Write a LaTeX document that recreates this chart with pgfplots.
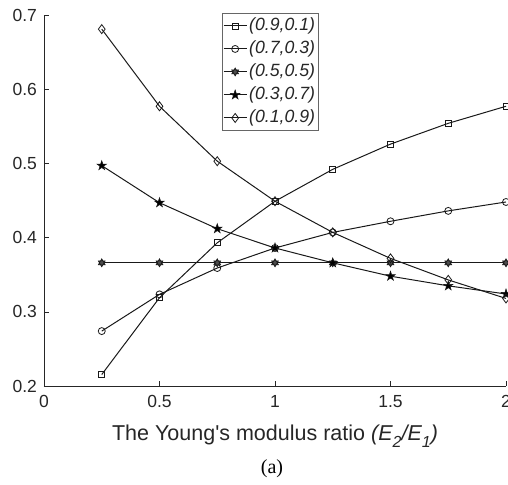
\documentclass[border=0pt]{standalone}
\usepackage{fontspec}
\usepackage{pgfplots}
\pgfplotsset{compat=1.18}
\newfontfamily\arial{Liberation Sans}
\newfontfamily\timesf{Liberation Serif}
\newcommand{\sub}[1]{\raisebox{-0.32em}{\fontsize{16}{18}\selectfont #1}}

\pgfdeclareplotmark{hexagram}{%
 \pgfpathmoveto{\pgfpointpolar{90}{\pgfplotmarksize}}%
 \pgfpathlineto{\pgfpointpolar{210}{\pgfplotmarksize}}%
 \pgfpathlineto{\pgfpointpolar{330}{\pgfplotmarksize}}%
 \pgfpathclose
 \pgfpathmoveto{\pgfpointpolar{270}{\pgfplotmarksize}}%
 \pgfpathlineto{\pgfpointpolar{30}{\pgfplotmarksize}}%
 \pgfpathlineto{\pgfpointpolar{150}{\pgfplotmarksize}}%
 \pgfpathclose
 \pgfusepathqfillstroke}
\pgfdeclareplotmark{pentagram}{%
 \pgfpathmoveto{\pgfpointpolar{90}{\pgfplotmarksize}}%
 \pgfpathlineto{\pgfpointpolar{126}{0.382\pgfplotmarksize}}%
 \pgfpathlineto{\pgfpointpolar{162}{\pgfplotmarksize}}%
 \pgfpathlineto{\pgfpointpolar{198}{0.382\pgfplotmarksize}}%
 \pgfpathlineto{\pgfpointpolar{234}{\pgfplotmarksize}}%
 \pgfpathlineto{\pgfpointpolar{270}{0.382\pgfplotmarksize}}%
 \pgfpathlineto{\pgfpointpolar{306}{\pgfplotmarksize}}%
 \pgfpathlineto{\pgfpointpolar{342}{0.382\pgfplotmarksize}}%
 \pgfpathlineto{\pgfpointpolar{18}{\pgfplotmarksize}}%
 \pgfpathlineto{\pgfpointpolar{54}{0.382\pgfplotmarksize}}%
 \pgfpathclose
 \pgfusepathqfillstroke}

\begin{document}
\arial\fontsize{17.5}{20}\selectfont
\begin{tikzpicture}
\begin{axis}[
 name=ax,
 scale only axis, width=462pt, height=371pt,
 xmin=0, xmax=2, ymin=0.2, ymax=0.7,
 axis lines*=left, tick align=inside, major tick length=5pt,
 axis line style={black!85, line width=0.6pt},
 every tick/.style={black!85, line width=0.6pt},
 xtick={0,0.5,1,1.5,2}, xticklabels={0,0.5,1,1.5,2},
 ytick={0.2,0.3,0.4,0.5,0.6,0.7}, yticklabels={0.2,0.3,0.4,0.5,0.6,0.7},
 ticklabel style={font=\arial\fontsize{17.5}{20}\selectfont, text=black!85},
 xticklabel style={yshift=-3pt},
 yticklabel style={xshift=-1pt},
 xlabel={The Young's modulus ratio \textit{(E\sub{2}/E\sub{1})}},
 xlabel style={font=\arial\fontsize{21.5}{24}\selectfont, text=black!85, at={(axis description cs:0.5,-0.147)}, anchor=base},
 legend style={at={(0.385,1.005)}, anchor=north west, draw=black!60, line width=0.6pt, fill=white,
   font=\arial\fontsize{17.7}{20}\selectfont, text=black!85, inner sep=1pt, row sep=0pt,
   nodes={inner sep=2pt, text height=14.5pt, text depth=4.5pt}},
 legend cell align=left,
 legend image code/.code={\draw[mark repeat=2,mark phase=2,#1] plot coordinates {(0pt,0pt) (11.5pt,0pt) (23pt,0pt)};},
 every axis plot/.append style={black!90, line width=1pt},
 clip=false,
]
\addplot[mark=square, mark size=3pt, mark options={fill=white, line width=0.8pt}] coordinates {
 (0.25,0.2155) (0.5,0.319) (0.75,0.393) (1.0,0.449) (1.25,0.492) (1.5,0.526) (1.75,0.554) (2.0,0.577)};
\addlegendentry{\textit{(0.9,0.1)}}
\addplot[mark=o, mark size=3.5pt, mark options={fill=white, line width=0.8pt}] coordinates {
 (0.25,0.274) (0.5,0.3235) (0.75,0.359) (1.0,0.386) (1.25,0.407) (1.5,0.422) (1.75,0.436) (2.0,0.448)};
\addlegendentry{\textit{(0.7,0.3)}}
\addplot[mark=hexagram, mark size=4pt, mark options={fill=black!70, line width=0.6pt}] coordinates {
 (0.25,0.366) (0.5,0.366) (0.75,0.366) (1.0,0.366) (1.25,0.366) (1.5,0.366) (1.75,0.366) (2.0,0.366)};
\addlegendentry{\textit{(0.5,0.5)}}
\addplot[mark=pentagram, mark size=5pt, mark options={fill=black, line width=0.5pt}] coordinates {
 (0.25,0.497) (0.5,0.447) (0.75,0.412) (1.0,0.386) (1.25,0.366) (1.5,0.348) (1.75,0.335) (2.0,0.324)};
\addlegendentry{\textit{(0.3,0.7)}}
\addplot[mark=diamond, mark size=4.5pt, mark options={fill=white, line width=0.8pt}] coordinates {
 (0.25,0.681) (0.5,0.577) (0.75,0.503) (1.0,0.449) (1.25,0.407) (1.5,0.372) (1.75,0.343) (2.0,0.318)};
\addlegendentry{\textit{(0.1,0.9)}}
\node[font=\timesf\fontsize{20}{22}\selectfont, anchor=base] at (rel axis cs:0.4935,-0.237) {(a)};
\end{axis}
\pgfresetboundingbox
\path ([xshift=-44pt,yshift=-98pt]ax.south west) rectangle ([xshift=2pt,yshift=15pt]ax.north east);
\end{tikzpicture}
\end{document}
